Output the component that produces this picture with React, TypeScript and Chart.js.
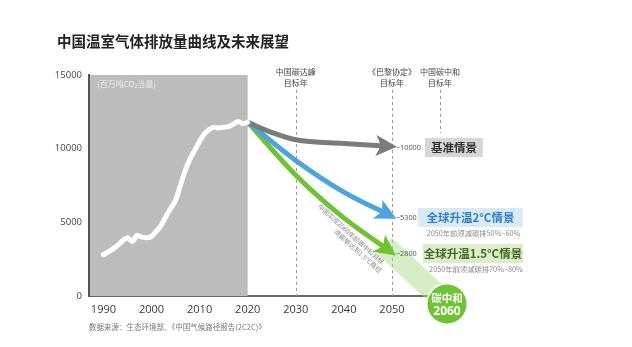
import React, { useEffect, useRef } from "react";
import { Chart, registerables } from "chart.js";
Chart.register(...registerables);

const histYears = [1990,1991,1992,1993,1994,1995,1996,1997,1998,1999,2000,2001,2002,2003,2004,2005,2006,2007,2008,2009,2010,2011,2012,2013,2014,2015,2016,2017,2018,2019,2020];
const histValues = [2800,3000,3200,3450,3750,3950,3700,4100,4000,3950,4050,4400,4800,5400,5950,6500,7500,8500,9300,9900,10500,11000,11300,11450,11400,11450,11500,11650,11850,11700,11800];
const baselineYears = [2020,2025,2030,2040,2050];
const baselineValues = [11800,11100,10600,10350,10150];
const twoDegYears = [2020,2030,2040,2050];
const twoDegValues = [11800,9200,7050,5400];
const onePointFiveYears = [2020,2030,2040,2050];
const onePointFiveValues = [11800,8200,5300,2950];
const xTicks = [1990,2000,2010,2020,2030,2040,2050];
const yTicks = [0,5000,10000,15000];
const historyEndYear = 2020;
const markerYears = [2030,2050,2060];
const markerLabels = [["中国碳达峰","目标年"],["《巴黎协定》","目标年"],["中国碳中和","目标年"]];
const scenarioLabels = ["基准情景","全球升温2°C情景","全球升温1.5°C情景"];
const scenarioEnds = ["~10000","~5300","~2800"];
const scenarioNotes = ["","2050年前须减碳排50%~60%","2050年前须减碳排70%~80%"];
const neutralYear = 2060;
const neutralValue = 0;
const titleText = "中国温室气体排放量曲线及未来展望";
const unitText = "(百万吨CO₂当量)";
const sourceText = "数据来源：生态环境部、《中国气候路径报告(2C2C)》";
const pathNote = ["中国实现2060年前碳中和目标", "须能够达到1.5°C路径"];

const FONT = '"Open Sans","Noto Sans CJK SC",sans-serif';
const CJK = '"Noto Sans CJK SC","Open Sans",sans-serif';
const GRAY = "#7b7b7b";
const BLUE = "#4ba3e0";
const GREEN = "#6cc431";

const pts = (xs: number[], ys: number[]) => xs.map((x, i) => ({ x, y: ys[i] }));

function drawArrow(ctx: CanvasRenderingContext2D, x: number, y: number, dx: number, dy: number, color: string) {
  const len = Math.hypot(dx, dy) || 1;
  const ux = dx / len, uy = dy / len;
  const tx = x + ux * 5, ty = y + uy * 5;
  const L = 21, W = 10.5;
  const bx = tx - ux * L, by = ty - uy * L;
  ctx.save();
  ctx.fillStyle = color;
  ctx.beginPath();
  ctx.moveTo(tx, ty);
  ctx.lineTo(bx - uy * W, by + ux * W);
  ctx.lineTo(bx + ux * 5, by + uy * 5);
  ctx.lineTo(bx + uy * W, by - ux * W);
  ctx.closePath();
  ctx.fill();
  ctx.restore();
}

const decor = {
  id: "decor",
  beforeDatasetsDraw(chart: any) {
    const { ctx, scales } = chart;
    const xs = scales.x, ys = scales.y;
    const area = chart.chartArea;
    ctx.save();
    ctx.fillStyle = "#bdbcbc";
    const bx0 = area.left + 1;
    const bx1 = xs.getPixelForValue(historyEndYear);
    ctx.fillRect(bx0, ys.getPixelForValue(15000), bx1 - bx0, ys.getPixelForValue(0) - ys.getPixelForValue(15000));
    ctx.strokeStyle = "#9a9a9a";
    ctx.lineWidth = 1;
    ctx.setLineDash([3, 3]);
    markerYears.forEach((yr, i) => {
      const px = Math.round(xs.getPixelForValue(yr)) + 0.5;
      ctx.beginPath();
      ctx.moveTo(px, 90);
      ctx.lineTo(px, i === 2 ? 133 : area.bottom);
      ctx.stroke();
    });
    ctx.setLineDash([]);
    const gx = xs.getPixelForValue(onePointFiveYears[onePointFiveYears.length - 1]);
    const gy = ys.getPixelForValue(onePointFiveValues[onePointFiveValues.length - 1]);
    const cx = xs.getPixelForValue(neutralYear) + 7;
    const cy = ys.getPixelForValue(neutralValue) + 8;
    const dx = cx - gx, dy = cy - gy;
    const l = Math.hypot(dx, dy);
    const nx = -dy / l, ny = dx / l;
    const sx = gx - (dx / l) * 10, sy = gy - (dy / l) * 10;
    ctx.fillStyle = "rgba(180,220,140,0.5)";
    ctx.beginPath();
    ctx.moveTo(sx + nx * 11, sy + ny * 11);
    ctx.lineTo(cx + nx * 11, cy + ny * 11);
    ctx.lineTo(cx - nx * 11, cy - ny * 11);
    ctx.lineTo(sx - nx * 11, sy - ny * 11);
    ctx.closePath();
    ctx.fill();
    ctx.restore();
  },
  afterDatasetsDraw(chart: any) {
    const { ctx, scales } = chart;
    const xs = scales.x, ys = scales.y;
    ctx.save();
    const colors = [GRAY, BLUE, GREEN];
    [1, 2, 3].forEach((di, k) => {
      const meta = chart.getDatasetMeta(di);
      const d = meta.data;
      const last = d[d.length - 1];
      const prev = d[d.length - 2];
      let px = last.cp1x, py = last.cp1y;
      if (px === undefined || (Math.abs(px - last.x) < 0.5 && Math.abs(py - last.y) < 0.5)) { px = prev.x; py = prev.y; }
      drawArrow(ctx, last.x, last.y, last.x - px, last.y - py, colors[k]);
    });

    ctx.fillStyle = "#222";
    ctx.font = `bold 14.5px ${CJK}`;
    ctx.textAlign = "left";
    ctx.textBaseline = "middle";
    ctx.fillText(titleText, 57, 41);

    ctx.fillStyle = "#ececec";
    ctx.font = `8px ${CJK}`;
    ctx.fillText(unitText, 97, 84);

    ctx.fillStyle = "#777";
    ctx.font = `7.5px ${CJK}`;
    ctx.fillText(sourceText, 89, 327);

    ctx.fillStyle = "#444";
    ctx.font = `8px ${CJK}`;
    ctx.textAlign = "center";
    markerYears.forEach((yr, i) => {
      const px = xs.getPixelForValue(yr);
      ctx.fillText(markerLabels[i][0], px, 72);
      ctx.fillText(markerLabels[i][1], px, 83);
    });

    const endYear = 2050;
    const ends = [baselineValues[baselineValues.length - 1], twoDegValues[twoDegValues.length - 1], onePointFiveValues[onePointFiveValues.length - 1]];
    const boxFill = ["#d6d6d6", "#d8eaf8", "#dcedc9"];
    const textCol = ["#333", "#2f7fc8", "#3f6b22"];
    const boxX = [425, 418, 423];
    const boxW = [58, 105, 100];
    const x50 = xs.getPixelForValue(endYear);
    ends.forEach((v, i) => {
      const py = ys.getPixelForValue(v);
      ctx.fillStyle = "#555";
      ctx.font = `7.3px ${FONT}`;
      ctx.textAlign = "left";
      ctx.fillText(scenarioEnds[i], x50 + 4, py + 1);
      const bx = x50 + (boxX[i] - 392);
      ctx.fillStyle = boxFill[i];
      ctx.fillRect(bx, py - 8.5, boxW[i], 19);
      ctx.fillStyle = textCol[i];
      ctx.font = `bold 11.5px ${CJK}`;
      ctx.textAlign = "center";
      ctx.fillText(scenarioLabels[i], bx + boxW[i] / 2, py + 1.5);
      if (scenarioNotes[i]) {
        ctx.fillStyle = "#8a8a8a";
        ctx.font = `7.3px ${CJK}`;
        ctx.fillText(scenarioNotes[i], bx + boxW[i] / 2 + 3, py + 17);
      }
    });

    ctx.save();
    ctx.translate(383, 263);
    ctx.rotate((42 * Math.PI) / 180);
    ctx.fillStyle = "#888";
    ctx.font = `6.5px ${CJK}`;
    ctx.textAlign = "right";
    ctx.fillText(pathNote[0], 0, 0);
    ctx.fillText(pathNote[1], 4, 8);
    ctx.restore();

    const cx = xs.getPixelForValue(neutralYear) + 7;
    const cy = ys.getPixelForValue(neutralValue) + 8;
    ctx.beginPath();
    ctx.arc(cx, cy, 21, 0, Math.PI * 2);
    ctx.fillStyle = "#fff";
    ctx.fill();
    ctx.beginPath();
    ctx.arc(cx, cy, 19.5, 0, Math.PI * 2);
    ctx.fillStyle = GREEN;
    ctx.fill();
    ctx.fillStyle = "#fff";
    ctx.textAlign = "center";
    ctx.font = `bold 10.5px ${CJK}`;
    ctx.fillText("碳中和", cx, cy - 6);
    ctx.font = `bold 12px ${FONT}`;
    ctx.fillText(String(neutralYear), cx, cy + 8);
    ctx.restore();
  },
};

export default function App() {
  const ref = useRef<HTMLCanvasElement>(null);
  useEffect(() => {
    if (!ref.current) return;
    const chart = new Chart(ref.current, {
      type: "line",
      data: {
        datasets: [
          { data: pts(histYears, histValues), borderColor: "#ffffff", borderWidth: 5, cubicInterpolationMode: "monotone", borderCapStyle: "round", order: 0 } as any,
          { data: pts(baselineYears, baselineValues), borderColor: GRAY, borderWidth: 5, cubicInterpolationMode: "monotone", order: 1 } as any,
          { data: pts(twoDegYears, twoDegValues), borderColor: BLUE, borderWidth: 5, cubicInterpolationMode: "monotone", order: 2 } as any,
          { data: pts(onePointFiveYears, onePointFiveValues), borderColor: GREEN, borderWidth: 5, cubicInterpolationMode: "monotone", order: 3 } as any,
        ],
      },
      options: {
        animation: false,
        responsive: false,
        devicePixelRatio: 1,
        layout: { padding: { top: 75, right: 192, bottom: 0, left: 0 } },
        elements: { point: { radius: 0 } },
        plugins: { legend: { display: false }, tooltip: { enabled: false } },
        scales: {
          x: {
            type: "linear",
            min: 1987,
            max: 2060,
            afterBuildTicks: (s: any) => { s.ticks = xTicks.map((v) => ({ value: v })); },
            afterFit: (s: any) => { s.height = 51; },
            ticks: { color: "#3a3a3a", font: { family: FONT, size: 11 }, padding: 7, callback: (v: any) => String(v) },
            grid: { display: false, drawTicks: false },
            border: { display: true, color: "#666", width: 2 },
          },
          y: {
            type: "linear",
            min: 0,
            max: 15000,
            afterBuildTicks: (s: any) => { s.ticks = yTicks.map((v) => ({ value: v })); },
            afterFit: (s: any) => { s.width = 89; },
            ticks: { color: "#444", font: { family: FONT, size: 9.5 }, padding: 7, callback: (v: any) => String(v) },
            grid: { display: false, drawTicks: false },
            border: { display: true, color: "#555", width: 2 },
          },
        },
      },
      plugins: [decor],
    } as any);
    return () => chart.destroy();
  }, []);
  return (
    <div style={{ position: "fixed", left: 0, top: 0, width: 632, height: 347, background: "#fff" }}>
      <canvas ref={ref} width={632} height={347} style={{ width: 632, height: 347, display: "block" }} />
    </div>
  );
}
